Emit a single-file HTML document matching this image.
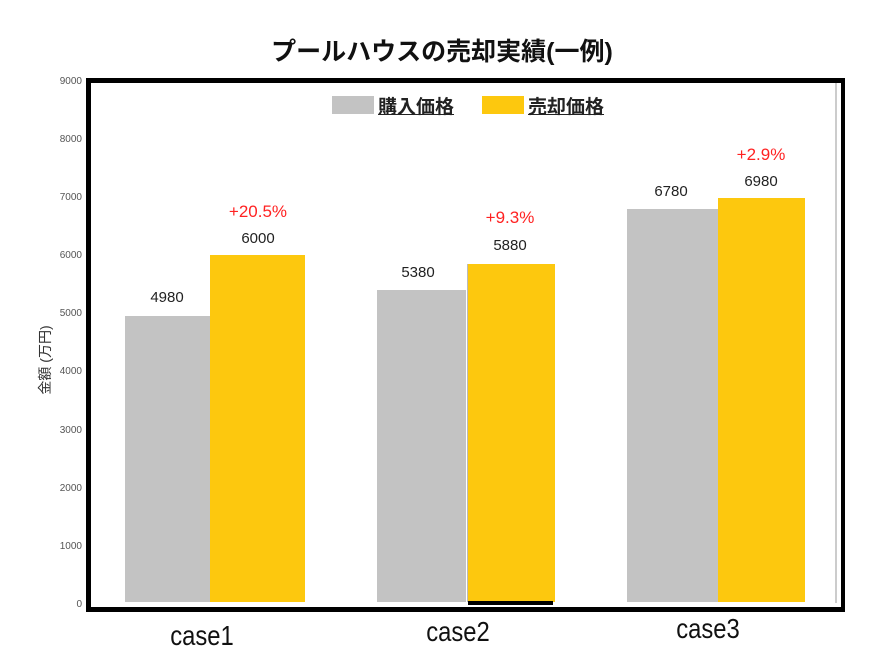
<!DOCTYPE html>
<html><head><meta charset="utf-8"><style>
body{margin:0;background:#fff;width:884px;height:671px;overflow:hidden;position:relative;font-family:"Liberation Sans","Noto Sans CJK JP",sans-serif}
.a{position:absolute}
.t{font-size:10px;color:#555;text-align:right;width:40px;left:42px}
.g{background:#c3c3c3}.y{background:#fdc80e}
.v{font-size:15px;color:#222;text-align:center;width:90px}
.p{font-size:17px;color:#f22;text-align:center;width:90px}
.c{font-size:28px;color:#111;text-align:center;width:120px;transform:scaleX(0.85)}
</style></head><body>
<div class="a" style="left:0;width:884px;top:32px;text-align:center;font-size:25px;font-weight:bold;color:#111">プールハウスの売却実績(一例)</div>
<div class="a" style="left:86px;top:78px;width:750px;height:524px;border:5px solid #000;border-right-width:4px"></div>
<div class="a" style="left:835px;top:83px;width:2px;height:520px;background:#ccc"></div>
<div class="a t" style="top:76px">9000</div>
<div class="a t" style="top:134px">8000</div>
<div class="a t" style="top:192px">7000</div>
<div class="a t" style="top:250px">6000</div>
<div class="a t" style="top:308px">5000</div>
<div class="a t" style="top:366px">4000</div>
<div class="a t" style="top:425px">3000</div>
<div class="a t" style="top:483px">2000</div>
<div class="a t" style="top:541px">1000</div>
<div class="a t" style="top:599px">0</div>
<div class="a" style="left:0px;top:350px;transform:rotate(-90deg);transform-origin:center;font-size:14px;color:#333;width:90px;text-align:center;white-space:nowrap">金額 (万円)</div>
<div class="a g" style="left:332px;top:96px;width:42px;height:18px"></div>
<div class="a" style="left:378px;top:92px;font-size:19px;font-weight:bold;text-decoration:underline;color:#222">購入価格</div>
<div class="a y" style="left:482px;top:96px;width:42px;height:18px"></div>
<div class="a" style="left:528px;top:92px;font-size:19px;font-weight:bold;text-decoration:underline;color:#222">売却価格</div>
<div class="a g" style="left:125px;top:316px;width:85px;height:286px"></div>
<div class="a y" style="left:210px;top:255px;width:95px;height:347px"></div>
<div class="a g" style="left:377px;top:290px;width:89px;height:312px"></div>
<div class="a y" style="left:467px;top:264px;width:87px;height:338px;border-left:1px solid #bbb"></div>
<div class="a" style="left:468px;top:601px;width:85px;height:4px;background:#000"></div>
<div class="a g" style="left:627px;top:209px;width:91px;height:393px"></div>
<div class="a y" style="left:718px;top:198px;width:87px;height:404px"></div>
<div class="a v" style="left:122px;top:289px">4980</div>
<div class="a v" style="left:213px;top:230px">6000</div>
<div class="a p" style="left:213px;top:202px">+20.5%</div>
<div class="a v" style="left:373px;top:264px">5380</div>
<div class="a v" style="left:465px;top:237px">5880</div>
<div class="a p" style="left:465px;top:208px">+9.3%</div>
<div class="a v" style="left:626px;top:183px">6780</div>
<div class="a v" style="left:716px;top:173px">6980</div>
<div class="a p" style="left:716px;top:145px">+2.9%</div>
<div class="a c" style="left:142px;top:620px">case1</div>
<div class="a c" style="left:398px;top:616px">case2</div>
<div class="a c" style="left:648px;top:613px">case3</div>
</body></html>
